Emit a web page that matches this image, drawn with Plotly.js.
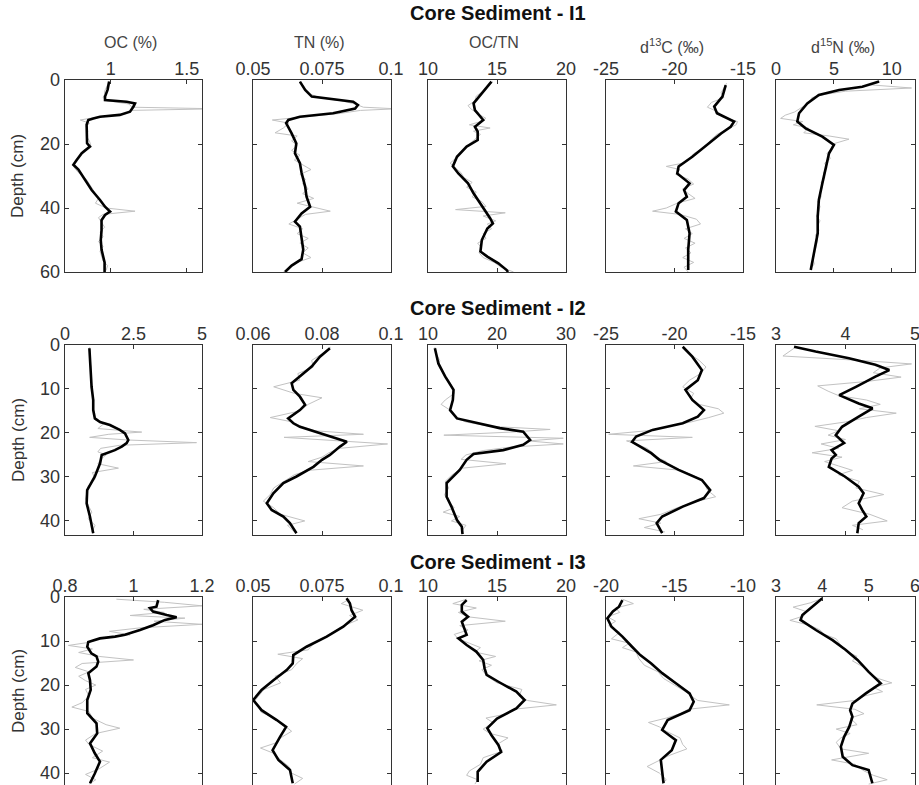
<!DOCTYPE html>
<html>
<head>
<meta charset="utf-8">
<script src="https://cdn.plot.ly/plotly-3.0.1.min.js"></script>
<style>
  html, body { margin: 0; padding: 0; background: #fff; overflow: hidden; }
  #chart { width: 919px; height: 785px; }
</style>
</head>
<body>
<div id="chart"></div>
<script>
// ---------------- Core I1 (0-60 cm) ----------------
const i1_oc_depth = [0.5,3,5.2,6.3,6.8,7.3,8.3,9.9,10.9,11.5,12,12.5,14,19.8,20.8,22.9,25,26.5,28,31.2,34.4,37.5,39.6,41.1,42.2,43.8,47,50,53,55,57,60];
const i1_oc = [0.99,0.98,0.963,0.963,1.105,1.16,1.15,1.127,1.06,0.93,0.886,0.853,0.842,0.845,0.864,0.81,0.777,0.755,0.788,0.83,0.875,0.93,0.963,0.996,0.963,0.94,0.94,0.935,0.94,0.95,0.96,0.96];
const i1_oc_raw_depth = [0.5,1.5,2.5,3.5,4.5,5.5,6.5,7.5,8.5,9.0,9.5,10.5,11.5,12.5,13.5,14.5,16,17.5,19,20.5,22,23.5,25,26.5,28,29.5,31,32.5,34,35.5,37,38.5,40,41,42,43,44.5,46,47.5,49,50.5,52,53.5,55,56.5,58,59.5];
const i1_oc_raw = [0.99,0.98,0.97,0.96,0.96,0.95,0.98,1.12,1.14,1.7,1.13,1.1,0.92,0.80,0.86,0.84,0.85,0.84,0.86,0.87,0.82,0.80,0.77,0.75,0.77,0.80,0.84,0.86,0.88,0.90,0.92,0.90,0.97,1.16,0.95,0.92,0.94,0.96,0.93,0.95,0.92,0.95,0.93,0.94,0.95,0.98,0.97];

const i1_tn_depth = [0.5,3.1,5.2,6,6.8,7.8,8.9,10.4,11.5,12.5,13.5,16.7,19.8,22.9,26,29,33.3,36.5,39.6,41.7,44.3,45.8,49,53,56,58,60];
const i1_tn = [0.067,0.0689,0.0713,0.079,0.0863,0.088,0.087,0.079,0.067,0.0628,0.062,0.064,0.0657,0.0652,0.067,0.0676,0.0689,0.0694,0.0707,0.0676,0.0652,0.067,0.0676,0.0682,0.0676,0.064,0.0616];
const i1_tn_raw_depth = [0.5,1.5,3,4.5,5.5,6.5,7.5,8.5,9,9.5,10.5,11.5,12.5,13.5,15,16.5,17.5,19,20.5,22,23.5,25,26.5,28,29.5,31,32.5,34,35.5,37,38.5,40,41,42,43.5,45,46.5,48,49.5,51,52.5,54,55.5,57,58.5,60];
const i1_tn_raw = [0.067,0.068,0.069,0.071,0.074,0.082,0.087,0.090,0.102,0.089,0.081,0.070,0.057,0.063,0.061,0.058,0.066,0.064,0.066,0.064,0.067,0.065,0.068,0.071,0.067,0.069,0.068,0.070,0.068,0.072,0.066,0.073,0.078,0.069,0.066,0.063,0.068,0.066,0.070,0.067,0.070,0.068,0.071,0.066,0.063,0.061];

const i1_cn_depth = [0.5,4.2,7.3,9.4,12.5,14.6,16.1,18.75,20.8,24,27,29.2,32.3,35.4,38.5,41.7,43.2,44.8,46.4,50,53.6,55.2,57.3,59.4,60];
const i1_cn = [14.6,13.9,13.3,13.4,14.0,13.4,13.6,13.6,12.8,12.1,11.8,12.2,12.9,13.3,13.8,14.3,14.5,14.7,14.3,13.9,13.8,14.3,15.1,15.7,15.8];
const i1_cn_raw_depth = [0.5,2,3.5,5,6.5,8,9,10.5,12,13,14,15,16,17,18.5,20,21.5,23,24.5,26,27.5,29,30.5,32,33.5,35,36.5,38,39.5,40.5,41.5,42.5,44,45,46.5,48,49.5,51,52.5,54,55.5,57,58.5,60];
const i1_cn_raw = [14.7,14.3,14.0,13.5,13.4,12.9,13.1,13.6,14.2,13.8,13.0,14.5,13.3,13.8,13.4,13.0,12.6,12.3,12.0,11.6,12.0,12.4,12.6,13.2,12.8,13.5,13.2,13.9,14.2,12.0,15.6,14.0,14.9,14.3,14.6,14.0,14.2,13.6,13.9,13.7,14.0,14.8,15.3,16.2];

const i1_c13_depth = [1.6,5.2,8.3,10.4,13,14.6,16.7,19.8,24,27,29.2,32.3,34.4,36.5,38.5,41.1,43.75,47.9,53.1,59.4];
const i1_c13 = [-16.26,-16.5,-17.1,-16.9,-15.65,-15.9,-16.6,-17.5,-18.7,-19.7,-19.8,-18.9,-19.3,-19.1,-19.7,-19.9,-19.1,-18.9,-19.0,-19.0];
const i1_c13_raw_depth = [1,2.5,4,5.5,7,8.5,10,11.5,13,14,15.5,17,18.5,20,21.5,23,24.5,26,27,28,29.5,31,32.5,34,35.5,37,38.5,40,41,42,43.5,45,46.5,48,49.5,51,52.5,54,55.5,57,58.5,60];
const i1_c13_raw = [-16.2,-16.4,-16.6,-16.4,-17.3,-17.6,-16.8,-16.5,-15.4,-15.5,-16.2,-16.9,-17.3,-17.6,-18.0,-18.6,-18.9,-19.4,-20.6,-19.6,-19.9,-19.0,-18.6,-19.4,-19.0,-18.5,-19.8,-20.6,-21.6,-19.6,-18.4,-18.1,-19.2,-18.7,-19.3,-18.5,-19.2,-18.8,-19.4,-18.6,-19.3,-19.0];

const i1_n15_depth = [0.5,2.1,3.1,4.7,7.3,10.4,13,15.1,17.7,20.3,22.9,27,32.3,37.5,42.7,47.9,53.1,59.4];
const i1_n15 = [8.9,7.45,5.45,3.7,2.7,1.99,1.84,2.56,4.0,5.0,4.58,4.3,4.0,3.7,3.6,3.6,3.3,3.0];
const i1_n15_raw_depth = [0.5,1.5,2.5,3.5,4.5,5.5,7,8.5,10,11,12,13,14,15,16.5,17.5,18.5,20,21.5,23,24.5,26,27.5,29,30.5,32,33.5,35,36.5,38,39.5,41,42.5,44,45.5,47,48.5,50,51.5,53,54.5,56,57.5,59];
const i1_n15_raw = [9.0,8.1,11.7,6.0,4.2,3.1,2.9,2.2,1.6,0.8,0.4,2.3,1.5,2.8,2.4,4.6,6.3,4.9,4.8,4.4,4.7,4.2,4.4,4.1,4.2,3.9,4.0,3.8,3.9,3.6,3.8,3.7,3.5,3.8,3.6,3.7,3.4,3.6,3.5,3.4,3.3,3.2,3.3,3.0];

// ---------------- Core I2 (0-43 cm) ----------------
const i2_oc_depth = [0.75,6.4,9.5,12.5,14.8,16.7,17.5,18.2,19.3,20.1,21.6,22.3,23.1,23.9,24.6,25,26.9,29.9,33,36,39,42.8];
const i2_oc = [0.89,0.94,0.97,1.03,1.03,1.09,1.28,1.64,2.0,2.19,2.31,2.25,2.07,1.82,1.46,1.34,1.28,1.09,0.81,0.79,0.91,1.03];
const i2_oc_raw_depth = [0.5,2,3.5,5,6.5,8,9.5,11,12.5,14,15.5,17,18,19,19.8,20.3,21,21.6,22.2,22.8,23.5,24.3,25,26,27,28,29,30.5,32,33.5,35,36.5,38,39.5,41,42.5];
const i2_oc_raw = [0.9,0.92,0.9,0.95,0.93,0.97,0.95,1.0,1.05,1.02,1.08,1.1,1.4,1.2,2.8,1.6,0.9,2.3,4.8,2.0,1.3,1.2,1.5,1.3,1.2,1.95,1.0,1.1,0.85,0.8,0.76,0.85,0.98,0.84,1.1,0.98];

const i2_tn_depth = [0.75,2.65,4.9,7.2,8.7,10.2,11.75,13.6,14.8,16.7,17.8,18.6,20.1,21.2,22,23.1,25,26.1,27.7,29.9,31.4,33.7,36,37.5,39,40.5,42.8];
const i2_tn = [0.0823,0.0794,0.077,0.0736,0.0712,0.0717,0.0736,0.0751,0.0736,0.0702,0.0717,0.0736,0.0794,0.0843,0.0872,0.0852,0.0823,0.080,0.0775,0.0726,0.0688,0.0659,0.064,0.0654,0.0688,0.0707,0.0726];
const i2_tn_raw_depth = [0.5,2,3.5,5,6.5,8,9.5,11,12,13.5,15,16.5,17.5,18.5,19.5,20.3,21,21.8,22.5,23.5,24.5,25.5,26.5,27.5,28.5,29.5,31,32.5,34,35.5,37,38.5,40,41,42.5];
const i2_tn_raw = [0.0825,0.0800,0.0770,0.0775,0.0730,0.0735,0.0660,0.0720,0.0800,0.0760,0.0735,0.0650,0.0715,0.0740,0.0780,0.0920,0.0690,0.0860,0.0990,0.0850,0.0820,0.0800,0.0760,0.0920,0.0760,0.0720,0.0690,0.0660,0.0650,0.0630,0.0660,0.0680,0.0750,0.0700,0.0720];

const i2_cn_depth = [0.75,4.2,7.2,10.2,12.5,14.8,16.7,17.8,18.9,19.7,21.6,22.7,23.9,24.8,26.1,28.4,31.4,34.5,36.75,39.8,41.3,43];
const i2_cn = [11.0,11.5,12.5,13.7,13.6,13.2,14.2,17.1,20.4,23.8,24.8,23.8,20.9,16.6,15.6,14.6,12.7,12.7,13.4,14.2,14.9,15.0];
const i2_cn_raw_depth = [0.5,2,3.5,5,6.5,8,9.5,11,12.5,13.5,15,16.5,17.5,18.5,19.2,19.8,20.5,21.2,21.8,22.5,23.2,24,25,26,27,28,29.5,31,32.5,34,35.5,37,38,39,40,41,42.5];
const i2_cn_raw = [11.0,11.2,11.7,11.6,12.3,13.0,13.5,13.8,12.5,11.9,13.4,14.0,15.5,19.0,27.7,22.0,12.3,29.6,24.5,29.6,22.0,18.0,15.5,14.8,21.3,15.0,13.5,12.5,13.0,12.4,12.9,13.8,12.2,14.6,13.4,15.5,14.8];

const i2_c13_depth = [0.4,2.65,5.7,8,10.2,12.5,14.8,16.3,17.8,19.3,20.8,22,23.1,24.6,26.1,28.4,30.7,33,34.8,36.75,39,40.5,42.8];
const i2_c13 = [-19.4,-18.7,-18.0,-18.3,-19.2,-18.7,-17.85,-18.3,-19.4,-21.6,-22.8,-23.1,-22.5,-21.7,-21.1,-19.7,-18.0,-17.4,-17.85,-19.4,-20.9,-21.3,-20.9];
const i2_c13_raw_depth = [0.5,2,3.5,5,6.5,8,9.5,11,12,13.5,14.5,15.5,16.5,17.5,18.5,19.5,20.3,21,21.8,22.5,23.5,24.5,25.5,26.5,27.5,28.5,30,31.5,33,34.5,35.5,37,38.5,39.5,40.5,41.5,42.5];
const i2_c13_raw = [-19.3,-18.9,-18.2,-17.7,-18.1,-18.9,-19.4,-18.6,-18.8,-18.2,-16.8,-16.4,-17.5,-18.8,-20.4,-22.0,-24.8,-18.7,-23.5,-22.8,-22.0,-21.6,-21.3,-20.6,-23.0,-19.5,-18.4,-17.8,-17.6,-17.0,-18.3,-19.8,-21.0,-22.6,-21.0,-22.2,-20.7];

const i2_n15_depth = [0.4,1.5,3,4.5,5.7,7.2,9.5,11.4,13.3,14.4,16.3,18.6,20.5,22.3,23.9,25,25.8,27.7,29.9,32.2,33.7,36,37.5,39,40.5,42.8];
const i2_n15 = [3.26,3.57,4.05,4.43,4.63,4.43,4.15,3.91,4.19,4.39,4.19,3.95,3.86,3.98,3.80,3.86,3.80,3.76,3.99,4.19,4.26,4.19,4.24,4.30,4.19,4.17];
const i2_n15_raw_depth = [0.3,1.5,2.5,3.5,4.3,5.2,6.3,7.3,8.3,9.3,10.5,11.5,12.5,13.5,14.5,15.5,16.5,17.5,18.5,19.5,20.5,21.5,22.5,23.5,24.5,25.5,26.5,27.5,28.5,29.5,31,32.5,34,35.5,37,38.5,40,41,42];
const i2_n15_raw = [3.3,3.2,3.1,4.2,4.95,4.5,4.4,4.8,4.3,3.6,3.75,3.9,4.3,4.5,4.2,4.73,4.3,4.0,3.56,3.9,3.75,4.0,3.65,3.9,3.52,3.95,3.7,3.9,4.1,3.9,4.2,4.15,4.55,4.1,3.95,4.35,4.6,4.1,4.25];

// ---------------- Core I3 (0-43 cm) ----------------
const i3_oc_depth = [0.7,2.2,2.5,3.3,4.1,4.6,5.2,6.4,7.5,8.6,9,9.4,10.2,11.3,12.8,13.5,14.7,15.8,17.3,18.9,21.1,23.4,26.4,28.7,31,33.25,35.5,37.4,40.1,42.3];
const i3_oc = [1.072,1.067,1.048,1.057,1.097,1.126,1.092,1.057,1.019,0.975,0.946,0.902,0.868,0.865,0.877,0.892,0.897,0.892,0.868,0.873,0.875,0.865,0.865,0.892,0.894,0.873,0.887,0.902,0.887,0.873];
const i3_oc_raw_depth = [0.5,1.2,2,2.8,3.5,4.2,4.8,5.5,6.2,7,7.8,8.6,9.5,10.3,11,11.8,12.6,13.5,14.3,15.1,16,17,18,19,20,21,22.5,24,25,26,27.5,29,29.8,31,32.5,33.5,35,36.5,37.5,39,40.3,41.5,42.5];
const i3_oc_raw = [0.95,1.09,1.20,1.03,1.09,0.99,1.15,1.06,1.20,1.02,0.93,0.99,0.90,0.87,0.81,0.88,0.84,0.90,1.0,0.85,0.83,0.87,0.84,0.86,0.89,0.86,0.87,0.85,0.82,0.87,0.88,0.92,0.96,0.89,0.86,0.87,0.91,0.88,0.93,0.90,0.86,0.89,0.87];

const i3_tn_depth = [0.3,1.4,3,4.5,6.75,9,11.3,13.2,15.1,16.6,18.9,21.1,23.4,25.7,27.95,29.5,31.75,34.8,37,39.3,42.3];
const i3_tn = [0.0839,0.0851,0.0857,0.087,0.0827,0.0767,0.0694,0.0646,0.0644,0.0622,0.0574,0.0531,0.0501,0.0531,0.0586,0.062,0.0598,0.0571,0.0592,0.0634,0.0644];
const i3_tn_raw_depth = [0.5,1.5,3,4.2,5.2,6.5,8,9,10.5,12,13,14,15,16.5,18,19.5,21,22.5,23.7,25,26.2,27.5,29,30.5,32,33.2,34.3,35.5,37,38.5,40,41.2,42.5];
const i3_tn_raw = [0.0850,0.0820,0.0898,0.0850,0.0880,0.0830,0.0790,0.0760,0.0720,0.0700,0.0590,0.0680,0.0660,0.0640,0.0580,0.0600,0.0540,0.0520,0.0505,0.0520,0.0530,0.0580,0.0610,0.0640,0.0600,0.0580,0.0527,0.0575,0.0600,0.0630,0.0640,0.0680,0.0650];

const i3_cn_depth = [0.7,1.8,3.3,4.5,5.6,7.1,8.6,9.4,10.9,12.4,14.3,16.2,17.7,19.25,21.5,23.4,25.3,27.6,29.8,31.4,33.6,35.2,37.4,39.7,42];
const i3_cn = [12.8,12.45,12.45,12.9,12.45,12.6,12.8,12.2,12.8,13.5,14.0,14.1,14.25,15.1,16.4,17.0,16.4,15.0,14.3,14.6,15.1,15.3,14.25,13.6,13.6];
const i3_cn_raw_depth = [0.5,1.5,2.5,3.5,4.5,5.5,6.5,7.5,8.5,9.5,10.5,11.5,12.5,13.5,14.5,15.5,16.5,18,19.5,21,22.5,23.5,24.5,25.5,26.5,27.5,28.5,30,31,32,33.5,35,36.5,38,39.5,40.5,41.5,42.5];
const i3_cn_raw = [12.8,11.8,13.5,12.2,12.9,15.6,12.3,12.9,11.9,12.2,13.0,13.8,13.4,14.9,13.7,14.6,13.9,14.3,15.0,16.8,16.6,17.2,19.3,16.2,15.8,14.2,14.7,14.0,14.5,15.8,15.0,15.4,14.0,13.8,13.0,12.8,13.6,13.4];

const i3_c13_depth = [0.7,2.2,3.3,4.85,6.75,9,11.3,13.2,15.1,17.3,19.6,21.9,23.8,25.7,27.95,30.2,32.5,34.8,37,40.1,42.3];
const i3_c13 = [-18.8,-19.05,-19.5,-19.9,-19.6,-18.8,-18.1,-17.5,-16.7,-15.9,-14.9,-13.9,-13.6,-13.9,-15.5,-15.9,-14.9,-15.2,-16.0,-15.9,-15.8];
const i3_c13_raw_depth = [0.5,1.5,2.5,3.5,4.5,5.5,6.5,8,9.5,10.5,11.5,12.5,14,15.5,17,18.5,20,21.5,22.5,23.5,24.5,25.5,26.5,27.5,28.5,29.5,30.5,32,33.5,34.5,36,37.5,38.5,40,41.5,42.5];
const i3_c13_raw = [-18.8,-18.0,-19.3,-19.0,-19.9,-19.3,-19.8,-19.0,-19.6,-18.3,-18.8,-17.8,-17.6,-17.2,-16.2,-15.8,-15.0,-14.2,-13.8,-13.3,-11.0,-14.0,-14.6,-15.6,-16.9,-16.1,-15.6,-14.6,-14.4,-14.1,-15.4,-16.3,-17.0,-16.1,-15.6,-15.9];

const i3_n15_depth = [0.3,2.2,4.1,5.2,7.5,9.8,12,14.3,17,19.6,21.9,24.2,25.7,27.2,29.5,31.75,34,36.3,38.2,39.3,42.3];
const i3_n15 = [4.0,3.78,3.57,3.53,3.86,4.22,4.5,4.76,5.0,5.26,4.94,4.65,4.6,4.65,4.58,4.47,4.4,4.44,4.65,5.0,5.08];
const i3_n15_raw_depth = [0.3,1.3,2.3,3.3,4.3,5.3,6.5,7.5,8.5,9.5,11,12.5,13.5,14.5,16,17.5,18.5,19.5,20.5,21.5,22.5,23.5,24.5,25.5,26.5,27.5,29,30,31,32,33,34.5,35.5,37,38,39.5,40.5,41.5,42.5];
const i3_n15_raw = [4.0,3.75,3.37,3.65,3.6,3.3,3.75,3.95,4.05,4.3,4.4,4.55,4.75,4.65,4.9,5.05,5.2,5.5,5.1,5.3,4.9,4.7,3.88,4.7,4.9,4.6,4.75,4.3,4.6,4.4,4.3,4.4,5.0,4.2,4.7,4.9,5.1,5.4,5.0];

// ---------------- Axis settings ----------------
const coreTitles = ['Core Sediment - I1', 'Core Sediment - I2', 'Core Sediment - I3'];
const paramTitles = ['OC (%)', 'TN (%)', 'OC/TN', 'd<sup>13</sup>C (‰)', 'd<sup>15</sup>N (‰)'];

const xRanges = [
  [[0.7, 1.6], [0.05, 0.1], [10, 20], [-25, -15], [0, 12]],
  [[0, 5], [0.06, 0.1], [10, 30], [-25, -15], [3, 5]],
  [[0.8, 1.2], [0.05, 0.1], [10, 20], [-20, -10], [3, 6]]
];
const xTicks = [
  [[1, 1.5], [0.05, 0.075, 0.1], [10, 15, 20], [-25, -20, -15], [0, 5, 10]],
  [[0, 2.5, 5], [0.06, 0.08, 0.1], [10, 20, 30], [-25, -20, -15], [3, 4, 5]],
  [[0.8, 1, 1.2], [0.05, 0.075, 0.1], [10, 15, 20], [-20, -15, -10], [3, 4, 5, 6]]
];
const xTickText = [
  [['1', '1.5'], ['0.05', '0.075', '0.1'], ['10', '15', '20'], ['-25', '-20', '-15'], ['0', '5', '10']],
  [['0', '2.5', '5'], ['0.06', '0.08', '0.1'], ['10', '20', '30'], ['-25', '-20', '-15'], ['3', '4', '5']],
  [['0.8', '1', '1.2'], ['0.05', '0.075', '0.1'], ['10', '15', '20'], ['-20', '-15', '-10'], ['3', '4', '5', '6']]
];
const depthRanges = [[60, 0], [43.2, 0], [42.7, 0]];
const depthTicks = [[0, 20, 40, 60], [0, 10, 20, 30, 40], [0, 10, 20, 30, 40]];

// ---------------- Panel table ----------------
const panels = [
  [[i1_oc_depth, i1_oc, i1_oc_raw_depth, i1_oc_raw],
   [i1_tn_depth, i1_tn, i1_tn_raw_depth, i1_tn_raw],
   [i1_cn_depth, i1_cn, i1_cn_raw_depth, i1_cn_raw],
   [i1_c13_depth, i1_c13, i1_c13_raw_depth, i1_c13_raw],
   [i1_n15_depth, i1_n15, i1_n15_raw_depth, i1_n15_raw]],
  [[i2_oc_depth, i2_oc, i2_oc_raw_depth, i2_oc_raw],
   [i2_tn_depth, i2_tn, i2_tn_raw_depth, i2_tn_raw],
   [i2_cn_depth, i2_cn, i2_cn_raw_depth, i2_cn_raw],
   [i2_c13_depth, i2_c13, i2_c13_raw_depth, i2_c13_raw],
   [i2_n15_depth, i2_n15, i2_n15_raw_depth, i2_n15_raw]],
  [[i3_oc_depth, i3_oc, i3_oc_raw_depth, i3_oc_raw],
   [i3_tn_depth, i3_tn, i3_tn_raw_depth, i3_tn_raw],
   [i3_cn_depth, i3_cn, i3_cn_raw_depth, i3_cn_raw],
   [i3_c13_depth, i3_c13, i3_c13_raw_depth, i3_c13_raw],
   [i3_n15_depth, i3_n15, i3_n15_raw_depth, i3_n15_raw]]
];

// ---------------- Geometry (pixels) ----------------
const W = 919, H = 785;
const colPx = [[65, 202], [253, 391], [428, 566], [606, 743], [776, 915]];
const rowPx = [[80, 272], [345, 535], [597, 785]];
const rowTitleY = [13, 308, 562];
const FONT = 'Liberation Sans, Arial, Helvetica, sans-serif';

const traces = [];
const layout = {
  width: W, height: H,
  margin: {l: 0, r: 0, t: 0, b: 0},
  paper_bgcolor: '#fff', plot_bgcolor: '#fff',
  showlegend: false,
  annotations: []
};

let k = 0;
for (let r = 0; r < 3; r++) {
  for (let c = 0; c < 5; c++) {
    k++;
    const xa = k === 1 ? 'x' : 'x' + k;
    const ya = k === 1 ? 'y' : 'y' + k;
    const [d, v, dr, vr] = panels[r][c];

    traces.push({
      type: 'scatter', mode: 'lines', x: vr, y: dr, xaxis: xa, yaxis: ya,
      line: {color: '#c2c2c2', width: 1}, hoverinfo: 'skip'
    });
    traces.push({
      type: 'scatter', mode: 'lines', x: v, y: d, xaxis: xa, yaxis: ya,
      line: {color: '#000', width: 2.6}, hoverinfo: 'skip'
    });

    const axKey = k === 1 ? '' : String(k);
    layout['xaxis' + axKey] = {
      domain: [colPx[c][0] / W, colPx[c][1] / W],
      anchor: ya, side: 'top',
      range: xRanges[r][c],
      tickmode: 'array', tickvals: xTicks[r][c], ticktext: xTickText[r][c],
      ticks: 'inside', ticklen: 4, tickwidth: 1, tickcolor: '#333',
      ticklabeloverflow: 'allow', ticklabelstandoff: -3,
      showline: true, linecolor: '#333', linewidth: 1.3,
      mirror: r < 2 ? 'ticks' : false,
      showgrid: false, zeroline: false, fixedrange: true,
      tickfont: {family: FONT, size: 18, color: '#333'}
    };
    layout['yaxis' + axKey] = {
      domain: [(H - rowPx[r][1]) / H, (H - rowPx[r][0]) / H],
      anchor: xa,
      range: depthRanges[r],
      tickmode: 'array', tickvals: depthTicks[r],
      ticks: 'inside', ticklen: 4, tickwidth: 1, tickcolor: '#333',
      ticklabeloverflow: 'allow',
      showline: true, linecolor: '#333', linewidth: 1.3, mirror: 'ticks',
      showticklabels: c === 0,
      showgrid: false, zeroline: false, fixedrange: true,
      tickfont: {family: FONT, size: 18, color: '#333'}
    };
  }

  // core title above each row
  layout.annotations.push({
    xref: 'paper', yref: 'paper', x: 497.5 / W, y: (H - rowTitleY[r]) / H,
    xanchor: 'center', yanchor: 'middle', showarrow: false,
    text: '<b>' + coreTitles[r] + '</b>',
    font: {family: FONT, size: 20, color: '#111'}
  });
  // depth label on the left of each row
  layout.annotations.push({
    xref: 'paper', yref: 'paper', x: 18 / W,
    y: (H - (rowPx[r][0] + rowPx[r][1]) / 2) / H,
    xanchor: 'center', yanchor: 'middle', showarrow: false, textangle: -90,
    text: 'Depth (cm)',
    font: {family: FONT, size: 17, color: '#333'}
  });
}

// parameter names above the first row
const paramY = [43, 43, 43, 46, 46];
for (let c = 0; c < 5; c++) {
  layout.annotations.push({
    xref: 'paper', yref: 'paper',
    x: ((colPx[c][0] + colPx[c][1]) / 2 - 3) / W, y: (H - paramY[c]) / H,
    xanchor: 'center', yanchor: 'middle', showarrow: false,
    text: paramTitles[c],
    font: {family: FONT, size: 16, color: '#444'}
  });
}

Plotly.newPlot('chart', traces, layout, {displayModeBar: false, staticPlot: true});
</script>
</body>
</html>
